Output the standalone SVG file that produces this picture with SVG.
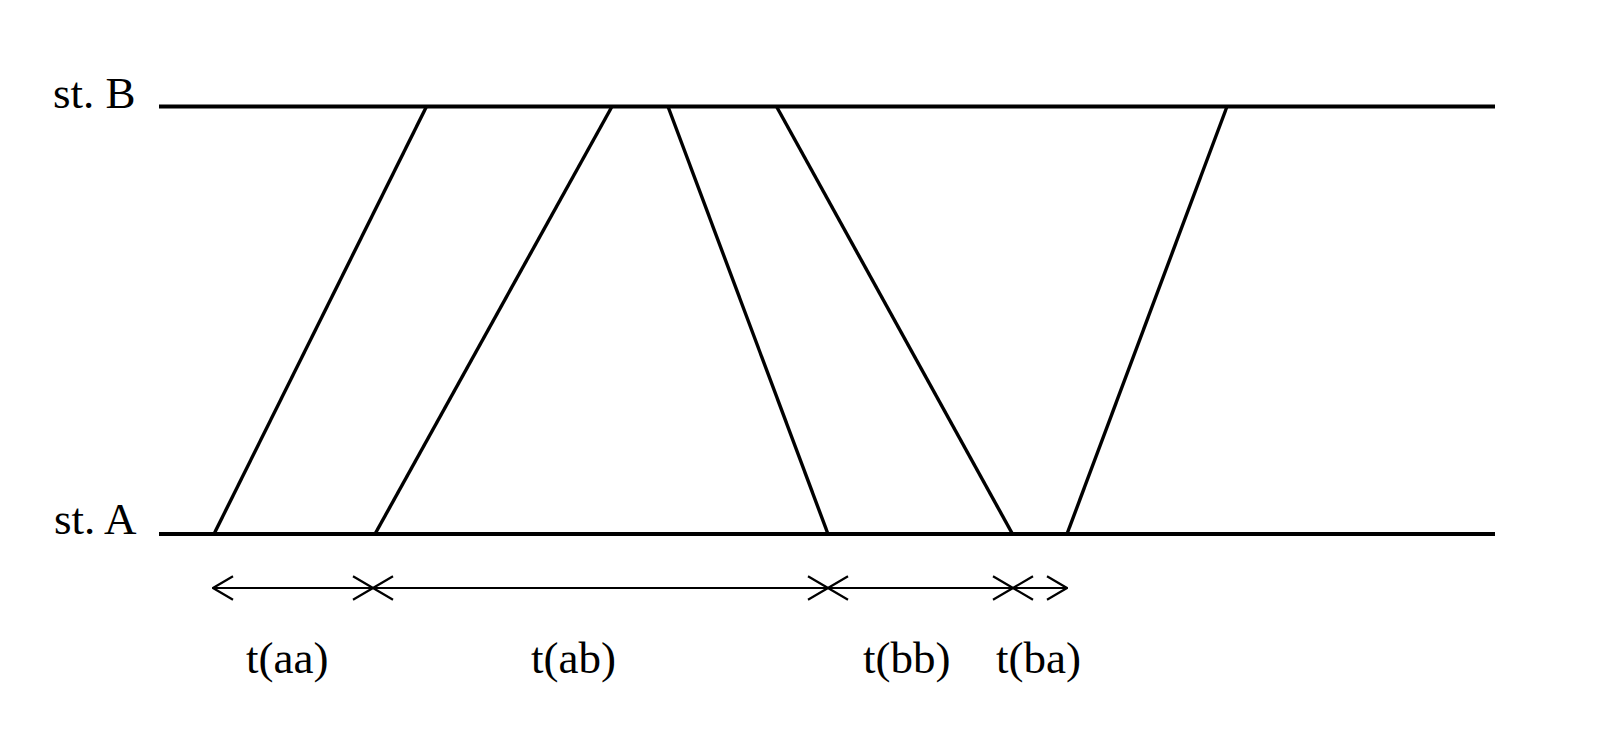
<svg xmlns="http://www.w3.org/2000/svg" width="1600" height="737" viewBox="0 0 1600 737">
  <style>
    .station { stroke: #000; stroke-width: 4.2; fill: none; }
    .signal { stroke: #000; stroke-width: 3.4; fill: none; }
    .interval { stroke: #000; stroke-width: 2.2; fill: none; marker-start: url(#chev); marker-end: url(#chev); }
    .lbl { font-family: "Liberation Serif", "Times New Roman", serif; font-size: 45px; fill: #000; }
  </style>
  <defs>
    <marker id="chev" viewBox="0 0 22 26" refX="21" refY="13" markerWidth="22" markerHeight="26" markerUnits="userSpaceOnUse" orient="auto-start-reverse">
      <path d="M1,1.3 L21,13 L1,24.7" fill="none" stroke="#000" stroke-width="2.2"/>
    </marker>
  </defs>
  <rect width="1600" height="737" fill="#fff"/>

  <g id="stationB">
    <line class="station" x1="159" y1="106.5" x2="1495" y2="106.5"/>
    <text class="lbl" x="53" y="108">st. B</text>
  </g>
  <g id="stationA">
    <line class="station" x1="159" y1="534" x2="1495" y2="534"/>
    <text class="lbl" x="54" y="534">st. A</text>
  </g>

  <g id="connectors">
    <line class="signal" x1="214" y1="534" x2="426.5" y2="106.5"/>
    <line class="signal" x1="375" y1="534" x2="612" y2="106.5"/>
    <line class="signal" x1="668" y1="106.5" x2="828" y2="534"/>
    <line class="signal" x1="776.5" y1="106.5" x2="1012.5" y2="534"/>
    <line class="signal" x1="1067" y1="534" x2="1227" y2="106.5"/>

    <line class="interval" x1="213" y1="588" x2="373" y2="588"/>
    <line class="interval" x1="373" y1="588" x2="828" y2="588"/>
    <line class="interval" x1="828" y1="588" x2="1013" y2="588"/>
    <line class="interval" x1="1013" y1="588" x2="1067" y2="588"/>
  </g>

  <g id="labels">
    <text class="lbl" x="246" y="673">t(aa)</text>
    <text class="lbl" x="531" y="673">t(ab)</text>
    <text class="lbl" x="863" y="673">t(bb)</text>
    <text class="lbl" x="996" y="673">t(ba)</text>
  </g>
</svg>
